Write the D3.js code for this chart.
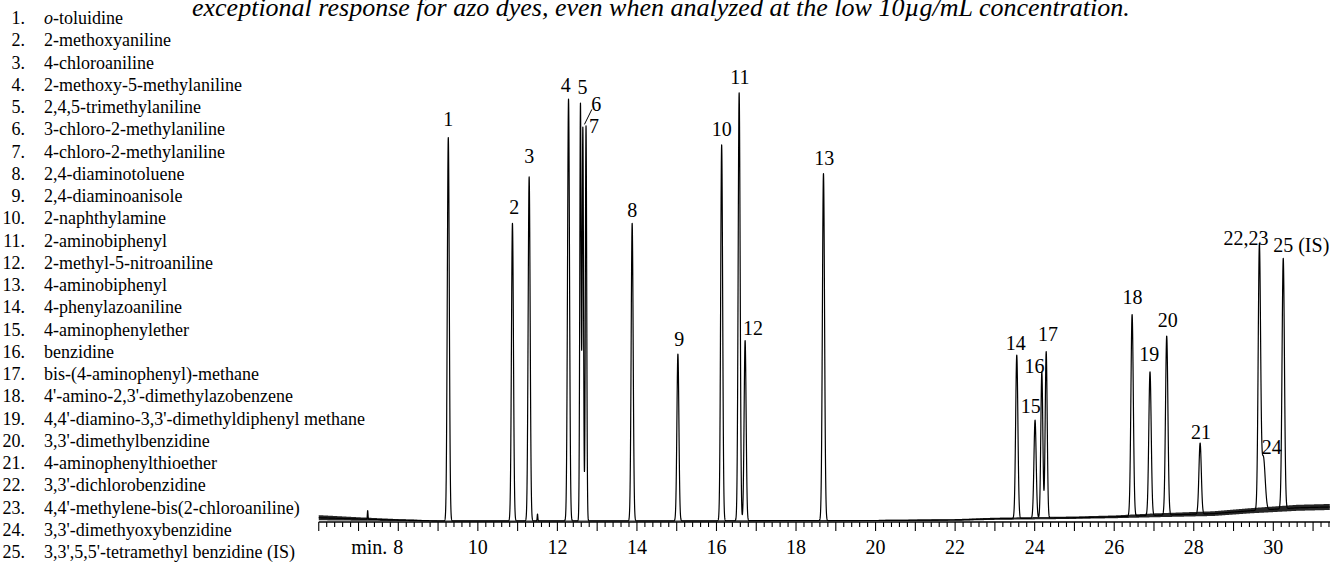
<!DOCTYPE html>
<html><head><meta charset="utf-8">
<script src="https://cdn.jsdelivr.net/npm/d3@7"></script>
<style>
body{margin:0;background:#fff}
svg{display:block;background:#fff}
text{font-family:"Liberation Serif","Times New Roman",serif;fill:#000}
</style>
</head><body><svg id="chart" width="1330" height="563"></svg>
<script>
// ---------- data ----------
const titleText = "exceptional response for azo dyes, even when analyzed at the low 10µg/mL concentration.";
const compoundNumbers = ["1.","2.","3.","4.","5.","6.","7.","8.","9.","10.","11.","12.","13.","14.","15.","16.","17.","18.","19.","20.","21.","22.","23.","24.","25."];
const compoundNames = ["o-toluidine","2-methoxyaniline","4-chloroaniline","2-methoxy-5-methylaniline","2,4,5-trimethylaniline",
  "3-chloro-2-methylaniline","4-chloro-2-methylaniline","2,4-diaminotoluene","2,4-diaminoanisole","2-naphthylamine",
  "2-aminobiphenyl","2-methyl-5-nitroaniline","4-aminobiphenyl","4-phenylazoaniline","4-aminophenylether","benzidine",
  "bis-(4-aminophenyl)-methane","4'-amino-2,3'-dimethylazobenzene","4,4'-diamino-3,3'-dimethyldiphenyl methane",
  "3,3'-dimethylbenzidine","4-aminophenylthioether","3,3'-dichlorobenzidine","4,4'-methylene-bis(2-chloroaniline)",
  "3,3'-dimethyoxybenzidine","3,3',5,5'-tetramethyl benzidine (IS)"];

const peakLabels = ["1","2","3","4","5","6","7","8","9","10","11","12","13","14","15","16","17","18","19","20","21","22,23","24","25 (IS)"];
const retentionTimes = [9.257,10.87,11.29,12.28,12.58,12.64,12.72,13.88,15.03,16.13,16.57,16.72,18.69,23.55,24.01,24.18,24.29,26.45,26.90,27.32,28.16,29.65,29.75,30.25];
const peakHeights = [89.2,69.2,80.0,98.1,97.0,91.4,91.9,69.2,38.8,87.4,99.5,41.9,80.7,38.0,22.8,34.0,38.7,46.9,33.4,41.6,16.5,61.0,12.3,58.2];
const peakWidths = [0.025,0.025,0.025,0.025,0.017,0.017,0.017,0.025,0.025,0.025,0.025,0.025,0.027,0.028,0.028,0.025,0.025,0.03,0.03,0.03,0.03,0.03,0.045,0.03];

const minorPeakTimes = [7.23, 11.50];
const minorPeakHeights = [2.0, 1.6];

const baselineTimes  = [6.0, 7.0, 8.0, 9.0, 14.0, 20.0, 22.0, 23.0, 25.0, 26.0, 27.0, 28.5, 29.4, 30.6, 31.45];
const baselineLevels = [1.0, 0.7, 0.45,0.25,0.25, 0.35, 0.47, 0.75, 1.0,  1.2,  1.55, 1.95, 2.6,  3.3,  3.5];
const noiseLevels    = [0.6, 0.4, 0.22,0.12,0.08, 0.12, 0.2,  0.25, 0.28, 0.32, 0.45, 0.55, 0.6,  0.7,  0.7];

const axisTicks = [8,10,12,14,16,18,20,22,24,26,28,30];
const axisUnit = "min.";

// ---------- layout ----------
const W = 1330, H = 563;
const axisY = 522;
const labelOffsets = [[0,-11],[1.7,-9],[0,-14],[-2.7,-7],[2,-10],[13.3,-17.3],[8,7.4],[0,-6.6],[1.3,-8.3],[0,-8.6],
  [0.7,-9.3],[8,-5.3],[0.7,-8.3],[-1,-5],[-4.3,-7.3],[-7.4,0.7],[1.7,-10.3],[0.3,-10],[-0.7,-11],[1,-8.6],[1,-4.1],
  [-13.5,-3.3],[8.4,-3],[18,-6.6]];

const svg = d3.select("#chart");

const x = d3.scaleLinear().domain([8,30]).range([398.3,1273.3]);
const y = d3.scaleLinear().domain([0,100]).range([axisY,92]);
const tStart = 6.0, tEnd = x.invert(W);

const baseAt = d3.scaleLinear().domain(baselineTimes).range(baselineLevels).clamp(true);
const noiseAt = d3.scaleLinear().domain(baselineTimes).range(noiseLevels).clamp(true);

function signal(t){
  let v = baseAt(t);
  for(let i=0;i<retentionTimes.length;i++){
    const d=(t-retentionTimes[i])/peakWidths[i];
    if(Math.abs(d)<8) v += peakHeights[i]*Math.exp(-0.5*d*d);
  }
  for(let i=0;i<minorPeakTimes.length;i++){
    const d=(t-minorPeakTimes[i])/0.008;
    if(Math.abs(d)<8) v += minorPeakHeights[i]*Math.exp(-0.5*d*d);
  }
  return v;
}
const ts = d3.range(tStart, tEnd, 0.002);

// noise band
svg.append("path")
  .datum(ts.filter((d,i)=>i%5===0))
  .attr("fill","#000").attr("fill-opacity",0.85)
  .attr("d", d3.area().x(t=>x(t)).y0(t=>y(baseAt(t)-noiseAt(t))).y1(t=>y(baseAt(t)+noiseAt(t))));

// chromatogram trace
svg.append("path")
  .datum(ts)
  .attr("fill","none").attr("stroke","#000").attr("stroke-width",1.2).attr("stroke-linejoin","round")
  .attr("d", d3.line().x(t=>x(t)).y(t=>y(signal(t))));

// axis
const axisG = svg.append("g");
axisG.append("line").attr("x1",x(tStart)).attr("x2",W).attr("y1",axisY).attr("y2",axisY)
  .attr("stroke","#000").attr("stroke-width",1.6);
const tickVals = d3.range(0, Math.round((tEnd - tStart)/0.2)+1).map(i=>+(tStart+i*0.2).toFixed(1)).filter(t=>t<=tEnd);
axisG.selectAll("line.tick").data(tickVals).join("line").attr("class","tick")
  .attr("x1",t=>x(t)).attr("x2",t=>x(t)).attr("y1",axisY)
  .attr("y2",t=>Math.abs(t-Math.round(t))<1e-6 ? axisY+9 : axisY+5)
  .attr("stroke","#000").attr("stroke-width",1.1);
axisG.selectAll("text.tl").data(axisTicks).join("text").attr("class","tl")
  .attr("x",t=>x(t)).attr("y",axisY+32).attr("text-anchor","middle").attr("font-size",20).text(t=>t);
axisG.append("text").attr("x",x(8)-11).attr("y",axisY+32).attr("text-anchor","end").attr("font-size",20).text(axisUnit);

// peak labels
svg.selectAll("text.pl").data(peakLabels).join("text").attr("class","pl")
  .attr("x",(d,i)=>x(retentionTimes[i])+labelOffsets[i][0])
  .attr("y",(d,i)=>y(baseAt(retentionTimes[i])+peakHeights[i])+labelOffsets[i][1])
  .attr("text-anchor","middle").attr("font-size",20).text(d=>d);
// leader line for peak 6
{
  const px = x(retentionTimes[5]), py = y(baseAt(retentionTimes[5])+peakHeights[5]);
  svg.append("line").attr("x1",px+9).attr("y1",py-18.5).attr("x2",px+1.6).attr("y2",py-3.5)
    .attr("stroke","#000").attr("stroke-width",1);
}

// title
svg.append("text").attr("x",192).attr("y",16).attr("font-size",26).attr("font-style","italic").text(titleText);

// compound legend
const leg = svg.append("g");
compoundNumbers.forEach((n,i)=>{
  const yy = 24 + i*22.26;
  leg.append("text").attr("x",25).attr("y",yy).attr("text-anchor","end").attr("font-size",18).text(n);
  const t = leg.append("text").attr("x",44).attr("y",yy).attr("font-size",18);
  const name = compoundNames[i];
  if(name.startsWith("o-")){
    t.append("tspan").attr("font-style","italic").text("o");
    t.append("tspan").text(name.slice(1));
  } else t.text(name);
});
</script></body></html>
